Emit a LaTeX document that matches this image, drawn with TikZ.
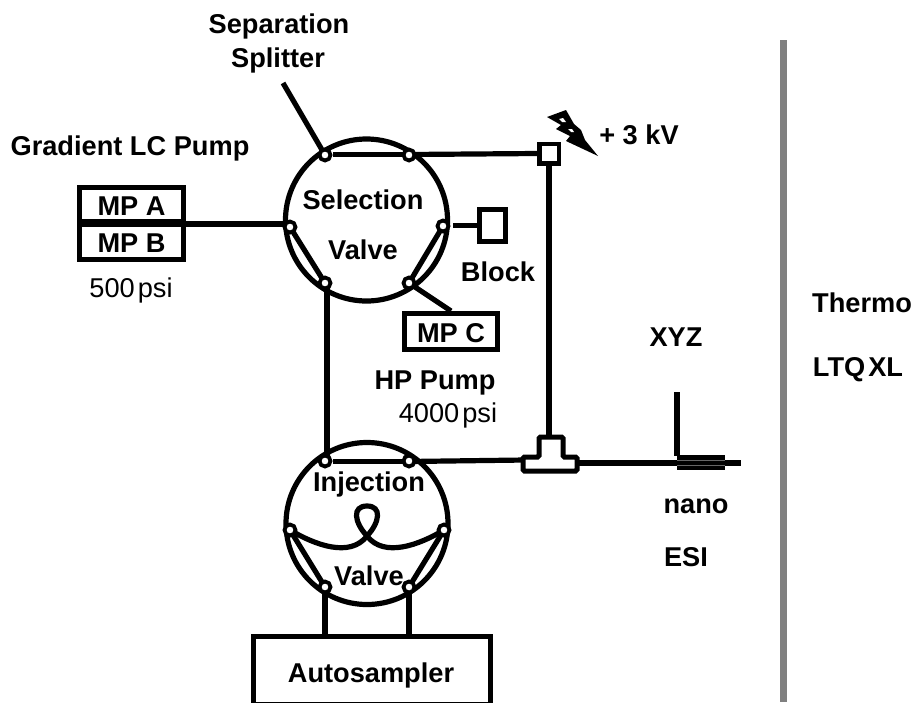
\documentclass[tikz,border=0pt]{standalone}
\usepackage{xcolor}
\usepackage{fontspec}
\setmainfont{Liberation Sans}

\begin{document}
\begin{tikzpicture}[
  x=1pt, y=-1pt,
  label/.style={font=\fontsize{27.2}{30}\selectfont\bfseries, inner sep=0pt, text height=18.7pt, text depth=0pt},
  plain/.style={font=\fontsize{27.2}{30}\selectfont, inner sep=0pt, text height=18.7pt, text depth=0pt},
  valve/.style={draw, circle, line width=5.2pt, minimum size=162pt, inner sep=0pt},
  port/.style={draw, circle, fill=white, line width=3.8pt, minimum size=11pt, inner sep=0pt},
  pumpbox/.style={draw, line width=5pt, inner sep=0pt, font=\fontsize{27.2}{30}\selectfont\bfseries, text height=21pt, text depth=0pt},
  tube/.style={line width=5.2pt}
]
\useasboundingbox (0,0) rectangle (915,702);

% detector wall
\coordinate (walltop) at (783,40);
\coordinate (wallend) at (783,702);
\draw[line width=7pt, gray] (walltop) -- (wallend);

% boxes
\node[pumpbox, minimum width=104pt, minimum height=34pt] (mpa) at (131.5,204.5) {MP A};
\node[pumpbox, minimum width=104pt, minimum height=35pt] (mpb) at (131.5,242) {MP B};
\node[pumpbox, minimum width=93pt, minimum height=36pt] (mpc) at (451,331.5) {MP C};
\node[pumpbox, minimum width=26pt, minimum height=32pt] (block) at (492.5,225.5) {};
\node[draw, line width=4.5pt, minimum size=19.5pt, inner sep=0pt] (hv) at (549,153.5) {};

% valves
\node[valve] (sel) at (366.5,220) {};
\node[valve] (inj) at (367,523.5) {};

% tubing
\coordinate (splitend) at (283,83);
\coordinate (lcstart) at (186,224);
\coordinate (lcend) at (288,224);
\coordinate (gapa) at (333,154.5);
\coordinate (gapaend) at (409,154.5);
\coordinate (gapb) at (333,461.5);
\coordinate (gapbend) at (409,461.5);
\coordinate (blockgap) at (453,225.5);
\coordinate (samplea) at (325,636);
\coordinate (sampleb) at (409,636);
\coordinate (hvdown) at (549,437);
\coordinate (teeleft) at (525,460);
\coordinate (teeright) at (577,463);
\coordinate (armtop) at (677,392);
\coordinate (armend) at (677,456);
\coordinate (sleevea) at (677,462.5);
\coordinate (sleeveb) at (725,462.5);
\coordinate (tipend) at (741,463);
\coordinate (vertop) at (327,286);
\coordinate (verend) at (327,461);

\coordinate (sa) at (325,155);
\coordinate (sb) at (409,155);
\coordinate (sc) at (290,227);
\coordinate (sd) at (443,226);
\coordinate (se) at (325,283);
\coordinate (sf) at (409,283);
\coordinate (ia) at (325,461);
\coordinate (ib) at (409,461);
\coordinate (ic) at (290,530);
\coordinate (id) at (444,530);
\coordinate (ie) at (325,587);
\coordinate (if) at (409,587);

\draw[tube] (splitend) -- (sa);
\draw[tube] (gapa) -- (gapaend);
\draw[tube] (gapaend) -- (hv.west);
\draw[tube] (lcstart) -- (lcend);
\draw[tube] (sc) -- (se);
\draw[tube] (sd) -- (sf);
\draw[tube] (blockgap) -- (block.west);
\draw[tube] (sf) -- (mpc.north);
\draw[tube] (vertop) -- (verend);
\draw[tube] (hv.south) -- (hvdown);
\draw[tube] (gapb) -- (gapbend);
\draw[tube] (gapbend) -- (teeleft);
\draw[tube] (ic) -- (ie);
\draw[tube] (id) -- (if);
\draw[tube] (ie) -- (samplea);
\draw[tube] (if) -- (sampleb);
\draw[tube] (teeright) -- (tipend);
\draw[tube] (armtop) -- (armend);
\draw[line width=15pt] (sleevea) -- (sleeveb);
\draw[gray!80!black, line width=.7pt] (677,460) -- (725,460);
\draw[gray!80!black, line width=.7pt] (677,465.5) -- (725,465.5);

% sample loop
\draw[tube] (ic) .. controls (315,545) and (350,558) .. (367,536)
  .. controls (354,522) and (352,506) .. (367,506)
  .. controls (382,506) and (380,522) .. (367,536)
  .. controls (384,558) and (419,545) .. (id);

% ports
\foreach \p in {sa,sb,sc,sd,se,sf,ia,ib,ic,id,ie,if}
  \node[port] (port\p) at (\p) {};

% tee
\draw[line width=5pt, fill=white, rounded corners=1.5pt] (539,457) -- (539,437) -- (563,437) -- (563,457)
  -- (577,457) -- (577,471) -- (523,471) -- (523,457) -- cycle;

% autosampler
\draw[line width=5pt] (253,704.2) -- (253,636) -- (490,636) -- (490,704.2) -- cycle;

% bolt
\fill (547,117) -- (566,110) -- (574,124) -- (581,130) -- (585,140) -- (598,156)
  -- (566,141) -- (570,136) -- (556,129) -- (561,125) -- cycle;
\fill[white] (559,119) -- (563,118) -- (566,122) -- (562,122) -- cycle;
\fill[white] (568,129) -- (572,129) -- (574,132) -- (571,132) -- cycle;

% labels
\node[label] (seplabel) at (279,24) {Separation};
\node[label] (splitlabel) at (278,58) {Splitter};
\node[label] (lclabel) at (130,146) {Gradient LC Pump};
\node[plain] (lcpsi) at (131,288) {500\kern3pt psi};
\node[label] (sellabel) at (363,200) {Selection};
\node[label] (vlabel) at (363,250) {Valve};
\node[label] (blocklabel) at (498,272) {Block};
\node[label] (hplabel) at (435,380) {HP Pump};
\node[plain] (hppsi) at (448,413) {4000\kern3pt psi};
\node[label] (kvlabel) at (639,135) {+ 3 kV};
\node[label] (injlabel) at (369,482) {Injection};
\node[label] (vlabelb) at (369,576) {Valve};
\node[label] (autolabel) at (371,673) {Autosampler};
\node[label] (xyzlabel) at (676,337) {XYZ};
\node[label] (nanolabel) at (696,504) {nano};
\node[label] (esilabel) at (686,557) {ESI};
\node[label] (thermolabel) at (862,303) {Thermo};
\node[label] (ltqlabel) at (858,367) {LTQ\kern3pt XL};
\end{tikzpicture}
\end{document}
